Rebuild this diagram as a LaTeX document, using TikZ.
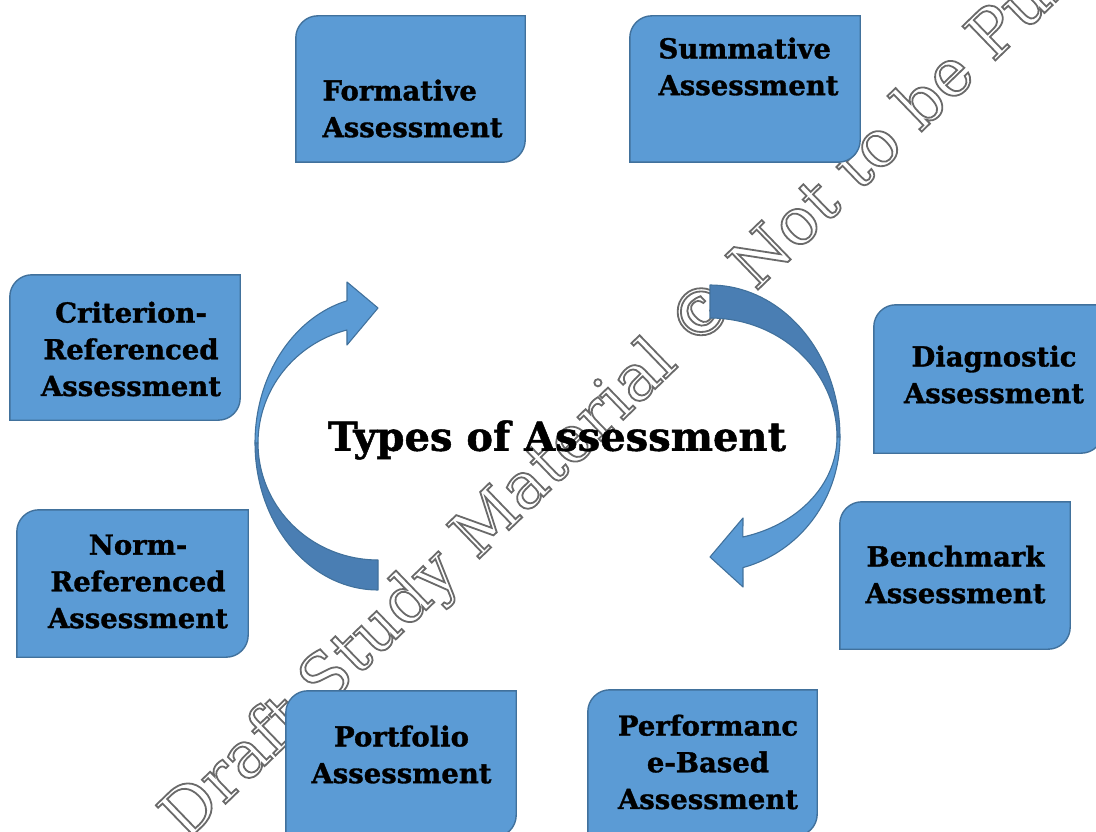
\documentclass[tikz,border=0pt]{standalone}
\usepackage{fontspec}
\newfontfamily\boxfont{DejaVu Serif}[BoldFeatures={FakeBold=1.2}]
\newfontfamily\markfont{DejaVu Serif}
\pgfdeclarelayer{mark}
\pgfdeclarelayer{back}
\pgfsetlayers{mark,back,main}
\definecolor{tabfill}{HTML}{5B9BD5}
\definecolor{tabline}{HTML}{41719C}
\definecolor{arrowback}{HTML}{4A7EB3}
\definecolor{markgray}{HTML}{6A6A6A}
\newlength\rc \setlength\rc{22pt}
\newlength\rk \setlength\rk{9.9pt}
% tab-shaped outline: rounded top-left and bottom-right corners
\newcommand\tabshape[1]{%
  \path[tabpath] (#1.south west) -- ([yshift=-\rc]#1.north west)
    .. controls ([yshift=-\rk]#1.north west) and ([xshift=\rk]#1.north west) .. ([xshift=\rc]#1.north west)
    -- (#1.north east) -- ([yshift=\rc]#1.south east)
    .. controls ([yshift=\rk]#1.south east) and ([xshift=-\rk]#1.south east) .. ([xshift=-\rc]#1.south east)
    -- cycle;}
\tikzset{
  tab/.style={inner sep=0pt, minimum width=230pt, minimum height=146pt},
  tabpath/.style={fill=tabfill, draw=tabline, line width=1.4pt},
  tabtext/.style={inner sep=0pt, font=\boxfont\bfseries\fontsize{27.5}{36.7}\selectfont, align=center},
  arrowfront/.style={fill=tabfill, draw=tabline, line width=1.1pt, line join=round},
  arrowrear/.style={fill=arrowback, draw=tabline, line width=1.1pt, line join=round},
}
\begin{document}
\begin{tikzpicture}[x=1pt, y=-1pt]
\useasboundingbox (0,0) rectangle (1096,832);

% watermark, set as outlined letters
\begin{pgfonlayer}{mark}
\node[anchor=base west, rotate=44, inner sep=0pt, text=markgray,
      font=\markfont\fontsize{65}{65}\selectfont] (wm) at (186,842)
  {\special{pdf:literal direct 1 Tr 1.8 w}Draft Study Material © Not to be Published\special{pdf:literal direct 0 Tr}};
\end{pgfonlayer}

% boxes
\node[tab, minimum width=229pt] (formative) at (410.5,89) {};
\node[tab] (summative) at (745,89) {};
\node[tab, minimum height=145pt] (criterion) at (125,347.5) {};
\node[tab, minimum width=229pt, minimum height=148pt] (diagnostic) at (988.5,379) {};
\node[tab, minimum height=147pt] (benchmark) at (955,575.5) {};
\node[tab, minimum width=231pt, minimum height=147pt] (norm) at (132.5,583.5) {};
\node[tab] (portfolio) at (401,764) {};
\node[tab, minimum width=229pt] (performance) at (702.5,763) {};

\begin{pgfonlayer}{back}
\foreach \b in {formative,summative,criterion,diagnostic,benchmark,norm,portfolio,performance}
  {\tabshape{\b}}
\end{pgfonlayer}

% box labels
\node[tabtext, align=left] (tformative) at (412.5,108.5) {Formative\\Assessment};
\node[tabtext, align=left] (tsummative) at (748.5,66.5) {Summative\\Assessment};
\node[tabtext] (tcriterion) at (131,349) {Criterion-\\Referenced\\Assessment};
\node[tabtext] (tdiagnostic) at (994,374.5) {Diagnostic\\Assessment};
\node[tabtext] (tbenchmark) at (955.5,574.5) {Benchmark\\Assessment};
\node[tabtext] (tnorm) at (138,581.5) {Norm-\\Referenced\\Assessment};
\node[tabtext] (tportfolio) at (401.5,754.5) {Portfolio\\Assessment};
\node[tabtext] (tperformance) at (708,762) {Performanc\\e-Based\\Assessment};

% left curved arrow: rear half, then front half with head
\path[arrowrear]
  plot[domain=90:180, samples=40, variable=\t] ({378+123*cos(\t)}, {443+147*sin(\t)})
  -- plot[domain=180:90, samples=40, variable=\t] ({378+120*cos(\t)}, {443+117*sin(\t)})
  -- cycle;
\path[arrowfront]
  plot[domain=180:255.4, samples=40, variable=\t] ({378+123*cos(\t)}, {443+147*sin(\t)})
  -- (347,282) -- (378,308) -- (347,345)
  -- plot[domain=255:180, samples=40, variable=\t] ({378+120*cos(\t)}, {443+117*sin(\t)})
  -- cycle;

% right curved arrow: rear half, then front half with head
\path[arrowrear]
  plot[domain=-90:0, samples=40, variable=\t] ({710+130*cos(\t)}, {437+152*sin(\t)})
  -- plot[domain=0:-90, samples=40, variable=\t] ({710+127*cos(\t)}, {437+119*sin(\t)})
  -- cycle;
\path[arrowfront]
  plot[domain=0:75.3, samples=40, variable=\t] ({710+130*cos(\t)}, {437+135*sin(\t)})
  -- (743,587) -- (710,557) -- (743,518)
  -- plot[domain=75:0, samples=40, variable=\t] ({710+127*cos(\t)}, {437+103.5*sin(\t)})
  -- cycle;

% centre title
\node[inner sep=0pt, font=\boxfont\bfseries\fontsize{40}{42}\selectfont] (title) at (557,440) {Types of Assessment};
\end{tikzpicture}
\end{document}
